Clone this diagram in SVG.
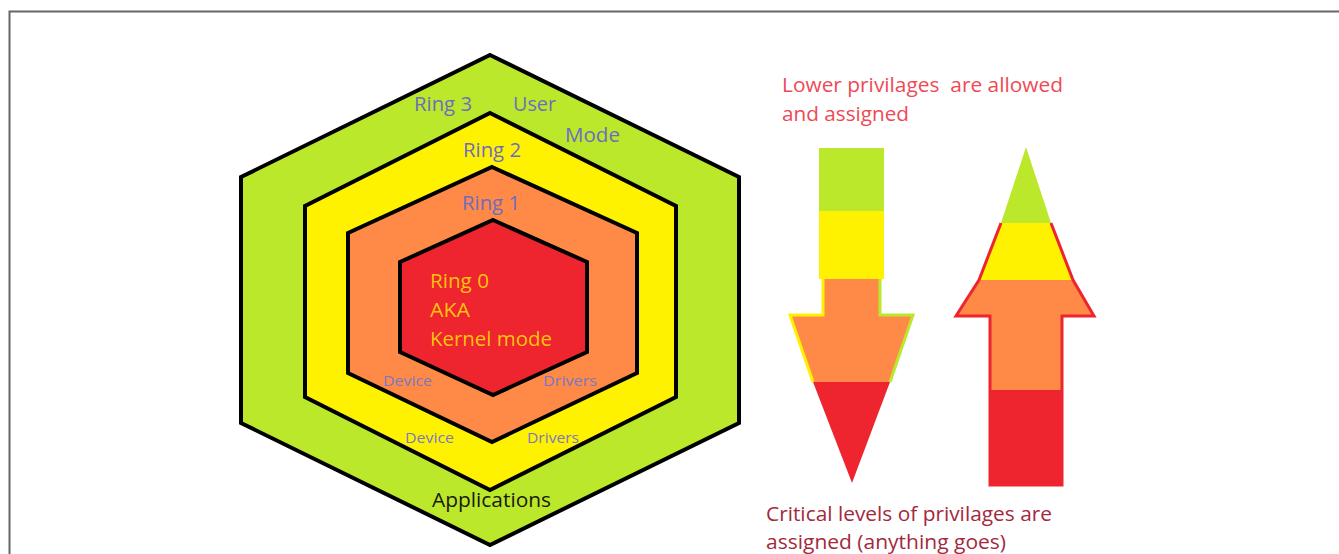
<svg xmlns="http://www.w3.org/2000/svg" width="1339" height="554" viewBox="0 0 1339 554">
<style>
text{font-family:"Open Sans","Noto Sans",sans-serif}
.hex{stroke:#000;stroke-width:4;stroke-linejoin:miter}
.lbl{fill:#6e6cc0;font-size:20px}
.k{fill:#ffc20e;font-size:20px}
.sm{font-size:15px;fill:#7b78c0}
.cap1{font-size:20px;fill:#ee4a55;white-space:pre}
.cap2{font-size:20px;fill:#a3293d}
</style>
<rect width="1339" height="554" fill="#fff"/>
<g id="frame"><path d="M9.5,554 V11.5 H1339" fill="none" stroke="#666" stroke-width="2"/></g>
<g id="ring3"><polygon class="hex" fill="#bbe82a" points="490,55 739,177 739,423 490,545 241,423 241,177"/>
<text class="lbl" x="414" y="111" textLength="58" lengthAdjust="spacingAndGlyphs">Ring 3</text>
<text class="lbl" x="513" y="111" textLength="43" lengthAdjust="spacingAndGlyphs">User</text>
<text class="lbl" x="565" y="142" textLength="55" lengthAdjust="spacingAndGlyphs">Mode</text>
<text font-size="20" fill="#1a1a0a" x="432" y="507" textLength="119" lengthAdjust="spacingAndGlyphs">Applications</text></g>
<g id="ring2"><polygon class="hex" fill="#fff200" points="490,113 676,206 676,397 490,490 305,397 305,206"/>
<text class="lbl" x="463" y="157" textLength="58" lengthAdjust="spacingAndGlyphs">Ring 2</text>
<text class="sm" x="405" y="443" textLength="49" lengthAdjust="spacingAndGlyphs">Device</text>
<text class="sm" x="527" y="443" textLength="52" lengthAdjust="spacingAndGlyphs">Drivers</text></g>
<g id="ring1"><polygon class="hex" fill="#ff8a47" points="492,167 637,233 637,373 492,442 348,373 348,233"/>
<text class="lbl" x="462" y="210" textLength="58" lengthAdjust="spacingAndGlyphs">Ring 1</text>
<text class="sm" x="383" y="386" textLength="49" lengthAdjust="spacingAndGlyphs">Device</text>
<text class="sm" x="543" y="386" textLength="54" lengthAdjust="spacingAndGlyphs">Drivers</text></g>
<g id="ring0"><polygon class="hex" fill="#ee242e" points="493,220 587,262 587,352 493,395 400,352 400,262"/>
<text class="k" x="430" y="288" textLength="59" lengthAdjust="spacingAndGlyphs">Ring 0</text>
<text class="k" x="430" y="317" textLength="40" lengthAdjust="spacingAndGlyphs">AKA</text>
<text class="k" x="430" y="346" textLength="122" lengthAdjust="spacingAndGlyphs">Kernel mode</text></g>
<g id="caption-top"><text class="cap1" x="782" y="92" textLength="281" lengthAdjust="spacingAndGlyphs" xml:space="preserve">Lower privilages  are allowed</text>
<text class="cap1" x="782" y="121" textLength="127" lengthAdjust="spacingAndGlyphs">and assigned</text></g>
<g id="arrow-down">
<polygon points="823,279 880,279 880,315 913,315 890,382 813,382 790,315 823,315" fill="#ff8a47"/>
<polyline points="823,279 823,315 790,315 813,382" fill="none" stroke="#fff200" stroke-width="3"/>
<polyline points="880,279 880,315 913,315 890,382" fill="none" stroke="#bbe82a" stroke-width="3"/>
<rect x="819" y="148" width="65" height="64" fill="#bbe82a"/>
<rect x="819" y="211" width="65" height="68" fill="#fff200"/>
<polygon points="813,382 890,382 852,483" fill="#ee242e"/>
</g>
<g id="arrow-up">
<polygon points="1001,223 1051,223 1073,280 979,280" fill="#fff200"/>
<polygon points="979,280 1073,280 1094,316 1062,316 1062,390 990,390 990,316 956,316" fill="#ff8a47"/>
<polyline points="1001,223 979,280 956,316 990,316 990,485 1062,485 1062,316 1094,316 1073,280 1051,223" fill="none" stroke="#ee242e" stroke-width="3" stroke-linejoin="miter"/>
<rect x="990" y="390" width="72" height="95" fill="#ee242e"/>
<polygon points="1026,147 1051,223 1001,223" fill="#bbe82a"/>
</g>
<g id="caption-bottom"><text class="cap2" x="766" y="521" textLength="286" lengthAdjust="spacingAndGlyphs">Critical levels of privilages are</text>
<text class="cap2" x="766" y="549" textLength="240" lengthAdjust="spacingAndGlyphs">assigned (anything goes)</text></g>
</svg>
